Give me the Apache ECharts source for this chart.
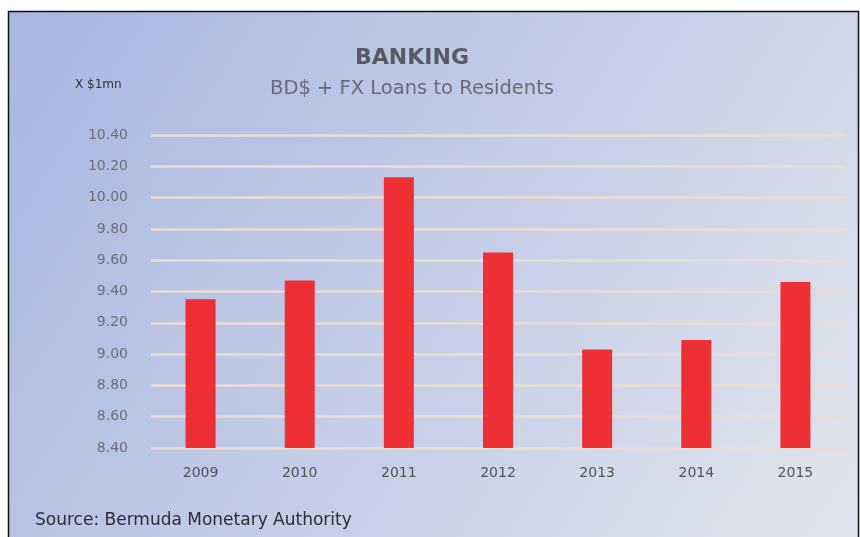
<!DOCTYPE html>
<html>
<head>
<meta charset="utf-8">
<script src="https://cdn.jsdelivr.net/npm/echarts@6/dist/echarts.min.js"></script>
<style>
  html, body { margin: 0; padding: 0; background: #ffffff; }
  #chart { width: 860px; height: 537px; }
</style>
</head>
<body>
<div id="chart"></div>
<script>
const years = ['2009', '2010', '2011', '2012', '2013', '2014', '2015'];
const loans = [9.35, 9.47, 10.13, 9.65, 9.03, 9.09, 9.46];
const yMin = 8.4;
const yMax = 10.4;
const yStep = 0.2;

const font = '"DejaVu Sans", "Open Sans", sans-serif';

const chart = echarts.init(document.getElementById('chart'));
chart.setOption({
  animation: false,
  graphic: [
    {
      type: 'rect',
      z: -10,
      shape: { x: 8.5, y: 11.5, width: 850, height: 540 },
      style: {
        fill: new echarts.graphic.LinearGradient(0, 0, 1, 1, [
          { offset: 0, color: '#a8b6e2' },
          { offset: 0.5, color: '#c3cde6' },
          { offset: 1, color: '#e2e5ee' },
        ]),
        stroke: '#111111',
        lineWidth: 1.5,
      },
    },
    {
      type: 'text',
      left: 75,
      top: 79,
      style: { text: 'X $1mn', font: '12px ' + font, fill: '#2c3140' },
    },
    {
      type: 'text',
      left: 35,
      top: 512,
      style: { text: 'Source: Bermuda Monetary Authority', font: '17px ' + font, fill: '#2a2d33' },
    },
  ],
  title: {
    text: 'BANKING',
    subtext: 'BD$ + FX Loans to Residents',
    left: 407,
    top: 42,
    textAlign: 'center',
    itemGap: 10,
    textStyle: { fontFamily: font, fontSize: 22, fontWeight: 'bold', color: '#565a62' },
    subtextStyle: { fontFamily: font, fontSize: 19.5, color: '#676b74' },
  },
  grid: { left: 151, right: 15, top: 135, bottom: 89 },
  xAxis: {
    type: 'category',
    data: years,
    axisLine: { show: false },
    axisTick: { show: false },
    axisLabel: { color: '#50545c', fontFamily: font, fontSize: 14, margin: 18 },
  },
  yAxis: {
    type: 'value',
    min: yMin,
    max: yMax,
    interval: yStep,
    axisLine: { show: false },
    axisTick: { show: false },
    axisLabel: {
      color: '#6a6e76',
      fontFamily: font,
      fontSize: 14,
      margin: 23,
      formatter: (v) => v.toFixed(2),
    },
    splitLine: { lineStyle: { color: '#ecdcd0', width: 2.5 } },
  },
  series: [
    {
      type: 'bar',
      data: loans,
      barWidth: 30,
      itemStyle: { color: '#ee3035' },
    },
  ],
});
</script>
</body>
</html>
